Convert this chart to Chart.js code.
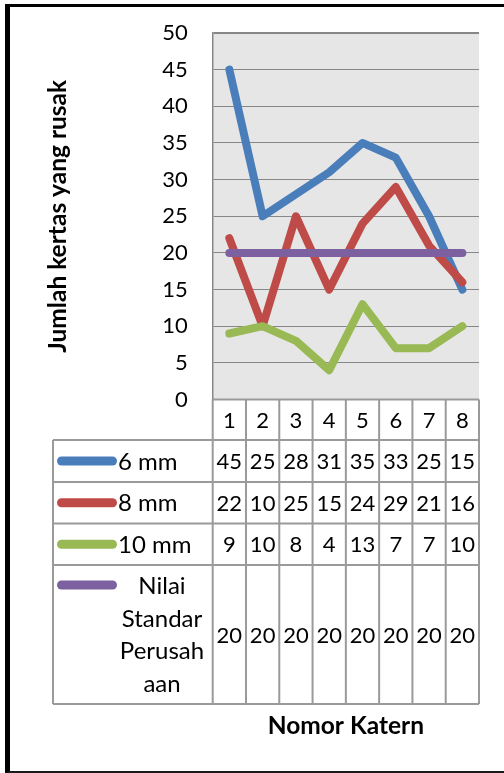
<!DOCTYPE html>
<html>
<head>
<meta charset="utf-8">
<script src="https://cdn.jsdelivr.net/npm/chart.js@4.4.1/dist/chart.umd.min.js"></script>
<style>
  html, body { margin: 0; padding: 0; background: #fff; }
  #wrap { position: relative; width: 504px; height: 773px; overflow: hidden; }
  #c { position: absolute; left: 0; top: 0; }
  #frame {
    position: absolute; left: 5px; top: 4px; width: 620px; height: 764px;
    border-left: 5px solid #000; border-top: 3px solid #000; border-bottom: 2px solid #1a1a1a;
    pointer-events: none;
  }
</style>
</head>
<body>
<div id="wrap">
  <canvas id="c" width="504" height="773"></canvas>
  <div id="frame"></div>
</div>
<script>
// Katern numbers and the damaged-sheet counts per cutting size
const categories = ['1', '2', '3', '4', '5', '6', '7', '8'];
const seriesNames = ['6 mm', '8 mm', '10 mm', 'Nilai Standar Perusahaan'];
const values6mm = [45, 25, 28, 31, 35, 33, 25, 15];
const values8mm = [22, 10, 25, 15, 24, 29, 21, 16];
const values10mm = [9, 10, 8, 4, 13, 7, 7, 10];
const valuesStandard = [20, 20, 20, 20, 20, 20, 20, 20];
// the long series name as it wraps inside the table's label cell
const standardLabelLines = ['Nilai', 'Standar', 'Perusah', 'aan'];
const yMin = 0, yMax = 50, yStep = 5;

const seriesColors = ['#4a7ebb', '#be4b48', '#98b954', '#7d60a0'];
const FONT = 'Lato, "Open Sans", sans-serif';
const NUM_SIZE = 22;    // tick labels and table numbers
const LABEL_SIZE = 24;  // series names in the table
const TITLE_SIZE = 24.5;

// table geometry below the plot
const TABLE_LEFT = 53;
const ROW_EDGES = [440, 482, 523.5, 565, 704]; // bottom edge of header, then of each series row
const GRID_GRAY = '#878787';
const TABLE_GRAY = '#9a9a9a';

const plotBackground = {
  id: 'plotBackground',
  beforeDraw(chart) {
    const { ctx, chartArea: a } = chart;
    ctx.save();
    ctx.fillStyle = '#e6e6e6';
    ctx.fillRect(a.left, a.top, a.right - a.left, a.bottom - a.top);
    ctx.restore();
  }
};

const dataTable = {
  id: 'dataTable',
  afterDraw(chart) {
    const { ctx, chartArea: a } = chart;
    const xs = chart.scales.x;
    const n = chart.data.labels.length;
    const colW = (a.right - a.left) / n;
    const top = a.bottom;
    const bottom = ROW_EDGES[ROW_EDGES.length - 1];

    ctx.save();
    ctx.strokeStyle = TABLE_GRAY;
    ctx.lineWidth = 2;
    ctx.beginPath();
    // horizontal rules
    ROW_EDGES.forEach(y => { ctx.moveTo(TABLE_LEFT, y); ctx.lineTo(a.right, y); });
    ctx.moveTo(a.left, top); ctx.lineTo(a.right, top);
    // vertical rules
    ctx.moveTo(TABLE_LEFT, ROW_EDGES[0]); ctx.lineTo(TABLE_LEFT, bottom);
    for (let i = 0; i <= n; i++) {
      const x = a.left + i * colW;
      ctx.moveTo(x, top); ctx.lineTo(x, bottom);
    }
    ctx.stroke();

    ctx.fillStyle = '#000';
    ctx.textBaseline = 'middle';
    const numFont = NUM_SIZE + 'px ' + FONT;
    const labelFont = LABEL_SIZE + 'px ' + FONT;

    // header: category labels
    ctx.font = numFont;
    ctx.textAlign = 'center';
    chart.data.labels.forEach((lab, i) => {
      ctx.fillText(lab, xs.getPixelForValue(i), (top + ROW_EDGES[0]) / 2 + 1);
    });

    // one row per series
    chart.data.datasets.forEach((ds, r) => {
      const rTop = ROW_EDGES[r];
      const rBot = ROW_EDGES[r + 1];
      const cy = (rTop + rBot) / 2;
      ctx.font = numFont;
      ctx.textAlign = 'center';
      ds.data.forEach((v, i) => ctx.fillText(String(v), xs.getPixelForValue(i), cy + 1));

      const multi = ds.tableLines && ds.tableLines.length > 1;
      const keyY = multi ? rTop + 20 : cy;
      ctx.strokeStyle = ds.borderColor;
      ctx.lineWidth = 9;
      ctx.lineCap = 'round';
      ctx.beginPath();
      ctx.moveTo(61.5, keyY);
      ctx.lineTo(112.5, keyY);
      ctx.stroke();

      ctx.font = labelFont;
      if (multi) {
        ctx.textAlign = 'center';
        ds.tableLines.forEach((t, k) => ctx.fillText(t, 162, rTop + 21 + k * 32.8));
      } else {
        ctx.textAlign = 'left';
        ctx.fillText(ds.label, 118, cy + 1);
      }
    });
    ctx.restore();
  }
};

const valueLists = [values6mm, values8mm, values10mm, valuesStandard];
const datasets = seriesNames.map((name, i) => ({
  label: name,
  data: valueLists[i],
  borderColor: seriesColors[i],
  backgroundColor: seriesColors[i],
  borderWidth: 8,
  borderCapStyle: 'round',
  borderJoinStyle: 'round',
  pointRadius: 0,
  tension: 0,
  fill: false,
  order: seriesNames.length - i,
  tableLines: i === 3 ? standardLabelLines : null
}));

new Chart(document.getElementById('c'), {
  type: 'line',
  data: { labels: categories, datasets },
  options: {
    responsive: false,
    animation: false,
    devicePixelRatio: 1,
    layout: { padding: { left: 10, top: 33, right: 25, bottom: 28 } },
    plugins: { legend: { display: false }, tooltip: { enabled: false } },
    scales: {
      x: {
        offset: true,
        grid: { display: false },
        border: { display: false },
        ticks: { display: false },
        title: {
          display: true,
          text: 'Nomor Katern',
          color: '#000',
          font: { family: FONT, size: TITLE_SIZE, weight: 'bold' },
          padding: { top: 0, bottom: 4 }
        },
        afterFit(scale) { scale.height = 773 - 28 - 399.5; }
      },
      y: {
        min: yMin,
        max: yMax,
        ticks: {
          stepSize: yStep,
          color: '#000',
          padding: 4,
          font: { family: FONT, size: NUM_SIZE }
        },
        grid: {
          color: GRID_GRAY,
          lineWidth: c => (c.tick && c.tick.value === yMax ? 2 : 1),
          drawTicks: true,
          tickLength: 21,
          tickColor: 'rgba(0,0,0,0)'
        },
        border: { display: true, color: GRID_GRAY, width: 1.5 },
        title: {
          display: true,
          text: 'Jumlah kertas yang rusak',
          color: '#000',
          font: { family: FONT, size: TITLE_SIZE, weight: 'bold' },
          padding: { top: 33, bottom: 0 }
        },
        afterFit(scale) { scale.width = 212.7 - 10; }
      }
    }
  },
  plugins: [plotBackground, dataTable]
});
</script>
</body>
</html>
